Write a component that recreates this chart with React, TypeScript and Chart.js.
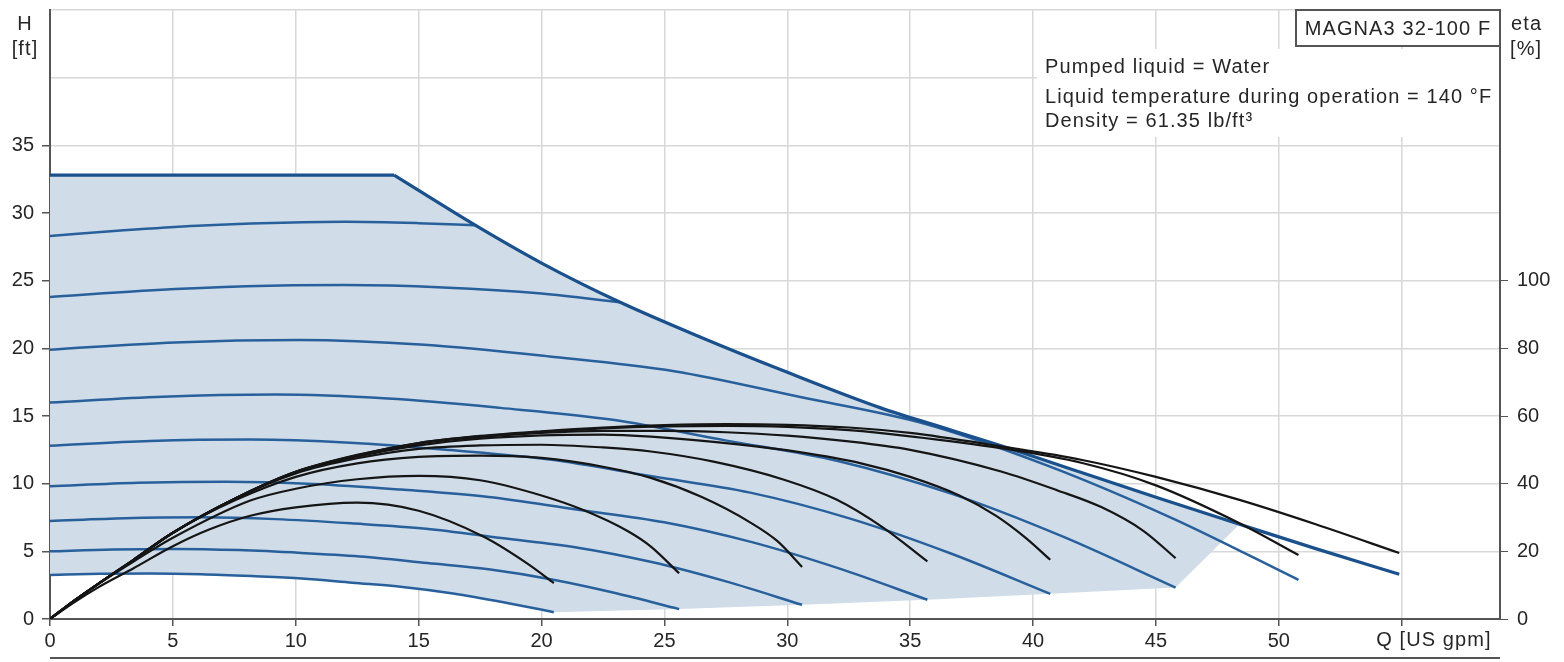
import React, { useEffect, useRef } from 'react';
import { Chart, registerables } from 'chart.js';

Chart.register(...registerables);

// ---- axis ticks ----
const qTicks = [0, 5, 10, 15, 20, 25, 30, 35, 40, 45, 50, 55];
const qTickLabels = ['0', '5', '10', '15', '20', '25', '30', '35', '40', '45', '50', ''];
const hTicks = [0, 5, 10, 15, 20, 25, 30, 35, 40, 45];
const hTickLabels = ['0', '5', '10', '15', '20', '25', '30', '35', '', ''];
const etaTicks = [0, 20, 40, 60, 80, 100];
const etaTickLabels = ['0', '20', '40', '60', '80', '100'];

// ---- max curve (H, ft) ----
const maxFlatQ = [0, 14];
const maxFlatH = [32.8, 32.8];
const maxQ = [14, 17.3, 20, 23.2, 26.5, 29.9, 33.8, 36.5, 38.7, 42, 45, 48.4, 51.5, 54.9];
const maxH = [32.8, 29.1, 26.3, 23.4, 20.8, 18.3, 15.6, 14.05, 12.8, 10.8, 9.0, 7.0, 5.2, 3.3];

// ---- speed curves (H, ft) ----
const spdQ1 = [0, 3, 6, 9, 12, 15, 17.3];
const spdH1 = [28.3, 28.72, 29.06, 29.26, 29.35, 29.25, 29.1];
const spdQ2 = [0, 4, 8, 12, 16, 20, 23.2];
const spdH2 = [23.8, 24.28, 24.59, 24.68, 24.5, 24.05, 23.4];
const spdQ3 = [0, 5.08, 10.16, 15.24, 20.32, 25.4, 30.48, 35.56, 40.64, 45.72, 50.8];
const spdH3 = [19.9, 20.44, 20.62, 20.26, 19.4, 18.31, 16.42, 14.45, 11.3, 7.4, 2.89];
const spdQ4 = [0, 4.58, 9.16, 13.74, 18.32, 22.9, 27.48, 32.06, 36.64, 41.22, 45.8];
const spdH4 = [16.0, 16.43, 16.58, 16.29, 15.6, 14.72, 13.2, 11.68, 9.28, 6.08, 2.32];
const spdQ5 = [0, 4.07, 8.14, 12.21, 16.28, 20.35, 24.42, 28.49, 32.56, 36.63, 40.7];
const spdH5 = [12.8, 13.15, 13.26, 13.03, 12.48, 11.78, 10.56, 9.34, 7.42, 4.86, 1.86];
const spdQ6 = [0, 3.57, 7.14, 10.71, 14.28, 17.85, 21.42, 24.99, 28.56, 32.13, 35.7];
const spdH6 = [9.8, 10.06, 10.15, 9.98, 9.56, 9.02, 8.09, 7.15, 5.68, 3.72, 1.42];
const spdQ7 = [0, 3.06, 6.12, 9.18, 12.24, 15.3, 18.36, 21.42, 24.48, 27.54, 30.6];
const spdH7 = [7.25, 7.45, 7.51, 7.38, 7.07, 6.67, 5.98, 5.29, 4.21, 2.76, 1.05];
const spdQ8 = [0, 2.56, 5.12, 7.68, 10.24, 12.8, 15.36, 17.92, 20.48, 23.04, 25.6];
const spdH8 = [5.0, 5.14, 5.18, 5.09, 4.88, 4.6, 4.13, 3.65, 2.9, 1.9, 0.73];
const spdQ9 = [0, 2.05, 4.1, 6.15, 8.2, 10.25, 12.3, 14.35, 16.4, 18.45, 20.5];
const spdH9 = [3.25, 3.34, 3.37, 3.31, 3.17, 2.99, 2.68, 2.37, 1.89, 1.24, 0.5];

// ---- operating range (shaded area outline) ----
const areaQ = [0, 14, 17.3, 20, 23.2, 26.5, 29.9, 33.8, 36.5, 38.7, 42, 45, 48.4, 45.8, 40.7, 35.7, 30.6, 25.6, 20.5, 18.45, 16.4, 14.35, 12.3, 10.25, 8.2, 6.15, 4.1, 2.05, 0];
const areaH = [32.8, 32.8, 29.1, 26.3, 23.4, 20.8, 18.3, 15.6, 14.05, 12.8, 10.8, 9.0, 7.0, 2.32, 1.86, 1.42, 1.05, 0.73, 0.5, 1.24, 1.89, 2.37, 2.68, 2.99, 3.17, 3.31, 3.37, 3.34, 3.25];

// ---- efficiency curves (eta, %) ----
const effQ1 = [0, 1, 2, 3.4, 5, 7.5, 10, 12.5, 15, 17.5, 20, 22.5, 25, 27.5, 30, 32.5, 35, 38.7, 42, 45, 48.4, 51.5, 54.9];
const effE1 = [0, 5.5, 10.6, 17.5, 25.5, 35.5, 43.5, 48.5, 52, 54.1, 55.5, 56.6, 57.3, 57.6, 57.4, 56.6, 55, 51, 47, 42, 35.2, 28, 19.5];
const effQ2 = [0, 1, 2, 3.4, 5, 7.5, 10, 12.5, 15, 17.5, 20, 22.5, 25, 27.5, 30, 32.5, 35, 38.7, 42, 45, 48.4, 50.8];
const effE2 = [0, 5.5, 10.6, 17.5, 25.5, 35.5, 43.5, 48.4, 52, 54, 55.3, 56.3, 56.9, 57.1, 56.8, 55.8, 54, 50.5, 46.1, 39.5, 28.3, 18.9];
const effQ3 = [0, 1, 2, 3.4, 5, 7.5, 10, 12.5, 15, 17.5, 20, 22.5, 25, 27.5, 30, 32.5, 35, 38.7, 41, 42.8, 44.5, 45.8];
const effE3 = [0, 5.5, 10.6, 17.5, 25.5, 35.5, 43.5, 48.3, 51.8, 53.8, 55, 55.6, 55.6, 55.2, 54.2, 52.5, 50, 43.6, 38, 33, 26, 18];
const effQ4 = [0, 1, 2, 3.4, 5, 7.5, 10, 12.5, 15, 17.5, 20, 22.5, 24.45, 28, 30.5, 33, 35, 37, 38.5, 39.7, 40.7];
const effE4 = [0, 5.5, 10.6, 17.5, 25.5, 35.5, 43.3, 48, 51.3, 53.3, 54.3, 54.5, 53.9, 51.6, 49.3, 46, 42, 36.5, 30.5, 24, 17.5];
const effQ5 = [0, 1, 2, 3.4, 5, 7.5, 10, 12.5, 15, 17.5, 20, 22.5, 24.45, 27, 29.9, 32, 33.9, 35.7];
const effE5 = [0, 5.5, 10.6, 17.5, 25.5, 35.5, 43, 47.5, 50.3, 51.3, 51.5, 50.7, 49.5, 46.5, 41.1, 35.3, 27, 17];
const effQ6 = [0, 1, 2, 3.4, 5, 7.5, 10, 12.5, 15, 17.5, 20, 22.5, 24.45, 26.5, 28.5, 29.6, 30.6];
const effE6 = [0, 5.5, 10.6, 17.5, 25.5, 35, 42, 46, 47.9, 48.3, 47.6, 45, 41.7, 36.1, 28.5, 23, 15.4];
const effQ7 = [0, 1, 2, 3.4, 5, 8.15, 10, 12.5, 15, 17.5, 20, 21.7, 23.5, 24.45, 25.6];
const effE7 = [0, 5.5, 10.5, 17, 24, 35, 38.5, 41.3, 42.3, 41, 36.5, 32.2, 26, 21.4, 13.5];
const effQ8 = [0, 1, 2, 3.4, 5, 6.5, 8.15, 10, 12.5, 15, 17.65, 19.5, 20.5];
const effE8 = [0, 5, 9.5, 15, 21.5, 26.5, 30.5, 33, 34.4, 32, 24.3, 16, 10.6];

const FONT = '"Liberation Sans", Arial, sans-serif';
const BLUE = 'rgb(40,96,156)';
const BLUE_DARK = 'rgb(26,80,140)';
const BLACK = '#151515';
const FILL = 'rgb(208,220,232)';
const AXIS = '#555';
const GRID = '#d8d8d8';
const TEXT = '#262626';

const pts = (q: number[], v: number[]) => q.map((x, i) => ({ x, y: v[i] }));

const speedSets: [number[], number[]][] = [
  [spdQ1, spdH1], [spdQ2, spdH2], [spdQ3, spdH3], [spdQ4, spdH4], [spdQ5, spdH5],
  [spdQ6, spdH6], [spdQ7, spdH7], [spdQ8, spdH8], [spdQ9, spdH9],
];
const effSets: [number[], number[]][] = [
  [effQ1, effE1], [effQ2, effE2], [effQ3, effE3], [effQ4, effE4],
  [effQ5, effE5], [effQ6, effE6], [effQ7, effE7], [effQ8, effE8],
];

const textPlugin = {
  id: 'pumpText',
  beforeDatasetsDraw(chart: any) {
    const { ctx, chartArea } = chart;
    ctx.save();
    ctx.fillStyle = '#fff';
    ctx.fillRect(1037, 49, chartArea.right - 1037 - 1, 88);
    ctx.restore();
  },
  afterDraw(chart: any) {
    const { ctx, chartArea } = chart;
    ctx.save();
    ctx.fillStyle = TEXT;
    ctx.font = `20px ${FONT}`;
    (ctx as any).letterSpacing = '1.1px';
    ctx.textBaseline = 'alphabetic';
    ctx.textAlign = 'left';
    ctx.fillText('Pumped liquid = Water', 1045, 73);
    ctx.fillText('Liquid temperature during operation = 140 °F', 1045, 102.5);
    ctx.fillText('Density = 61.35 lb/ft³', 1045, 127);

    // title box
    ctx.fillStyle = '#fff';
    ctx.fillRect(1296, chartArea.top, chartArea.right - 1296, 36);
    ctx.strokeStyle = AXIS;
    ctx.lineWidth = 2;
    ctx.strokeRect(1296, chartArea.top, chartArea.right - 1296, 36);
    ctx.fillStyle = TEXT;
    ctx.textAlign = 'center';
    ctx.fillText('MAGNA3 32-100 F', 1398, 35);

    // axis titles
    ctx.fillText('H', 25, 30);
    ctx.fillText('[ft]', 25, 55);
    ctx.textAlign = 'left';
    ctx.fillText('eta', 1511, 30);
    ctx.fillText('[%]', 1510, 55);
    ctx.textAlign = 'center';
    ctx.fillText('Q [US gpm]', 1434, 646);

    // top of next panel
    ctx.strokeStyle = AXIS;
    ctx.lineWidth = 2;
    ctx.beginPath();
    ctx.moveTo(chartArea.left, 658);
    ctx.lineTo(chartArea.right, 658);
    ctx.stroke();
    ctx.restore();
  },
};

const noPad = (s: any) => {
  s.paddingTop = 0;
  s.paddingBottom = 0;
};

export default function App() {
  const ref = useRef<HTMLCanvasElement | null>(null);

  useEffect(() => {
    if (!ref.current) return;
    const datasets: any[] = [];

    datasets.push({
      data: pts(areaQ, areaH),
      yAxisID: 'y',
      borderWidth: 0,
      borderColor: 'rgba(0,0,0,0)',
      backgroundColor: FILL,
      fill: 'shape',
      tension: 0,
      pointRadius: 0,
      order: 30,
    });
    speedSets.forEach(([q, h]) => {
      datasets.push({
        data: pts(q, h),
        yAxisID: 'y',
        borderColor: BLUE,
        borderWidth: 2.5,
        fill: false,
        cubicInterpolationMode: 'monotone',
        pointRadius: 0,
        order: 20,
      });
    });
    datasets.push({
      data: pts(maxFlatQ, maxFlatH),
      yAxisID: 'y',
      borderColor: BLUE_DARK,
      borderWidth: 3.2,
      fill: false,
      tension: 0,
      pointRadius: 0,
      order: 15,
    });
    datasets.push({
      data: pts(maxQ, maxH),
      yAxisID: 'y',
      borderColor: BLUE_DARK,
      borderWidth: 3.2,
      fill: false,
      cubicInterpolationMode: 'monotone',
      pointRadius: 0,
      order: 15,
    });
    effSets.forEach(([q, e]) => {
      datasets.push({
        data: pts(q, e),
        yAxisID: 'y2',
        borderColor: BLACK,
        borderWidth: 2.2,
        fill: false,
        cubicInterpolationMode: 'monotone',
        pointRadius: 0,
        order: 5,
      });
    });

    const tickFont = { family: FONT, size: 20 };

    const chart = new Chart(ref.current, {
      type: 'line',
      data: { datasets },
      plugins: [textPlugin],
      options: {
        animation: false,
        responsive: false,
        devicePixelRatio: 1,
        layout: { padding: { top: 10, left: 0, right: 0, bottom: 0 } },
        plugins: { legend: { display: false }, tooltip: { enabled: false } },
        events: [],
        scales: {
          x: {
            type: 'linear',
            min: 0,
            max: 59,
            afterBuildTicks: (s: any) => { s.ticks = qTicks.map((v) => ({ value: v })); },
            afterFit: (s: any) => { s.height = 43; s.paddingLeft = 0; s.paddingRight = 0; },
            grid: { color: GRID, lineWidth: 1.5, tickLength: 7, tickColor: AXIS },
            border: { color: AXIS, width: 2 },
            ticks: {
              autoSkip: false,
              maxRotation: 0,
              padding: 3,
              color: TEXT,
              font: tickFont,
              callback: (_v: any, i: number) => qTickLabels[i],
            },
          },
          y: {
            type: 'linear',
            position: 'left',
            min: 0,
            max: 45,
            afterBuildTicks: (s: any) => { s.ticks = hTicks.map((v) => ({ value: v })); },
            afterFit: (s: any) => { s.width = 50; noPad(s); },
            grid: {
              color: GRID,
              lineWidth: 1.5,
              tickLength: 8,
              tickColor: (c: any) => (hTickLabels[c.index] ? AXIS : 'rgba(0,0,0,0)'),
            },
            border: { color: AXIS, width: 2 },
            ticks: {
              padding: 8,
              color: TEXT,
              font: tickFont,
              callback: (_v: any, i: number) => hTickLabels[i],
            },
          },
          y2: {
            type: 'linear',
            position: 'right',
            min: 0,
            max: 180,
            afterBuildTicks: (s: any) => { s.ticks = etaTicks.map((v) => ({ value: v })); },
            afterFit: (s: any) => { s.width = 64; noPad(s); },
            grid: { drawOnChartArea: false, tickLength: 8, tickColor: AXIS },
            border: { color: AXIS, width: 2 },
            ticks: {
              padding: 9,
              color: TEXT,
              font: tickFont,
              callback: (_v: any, i: number) => etaTickLabels[i],
            },
          },
        },
      },
    });
    return () => chart.destroy();
  }, []);

  return (
    <div style={{ position: 'fixed', left: 0, top: 0, width: 1564, height: 662, background: '#fff' }}>
      <canvas ref={ref} width={1564} height={662} style={{ display: 'block' }} />
    </div>
  );
}
